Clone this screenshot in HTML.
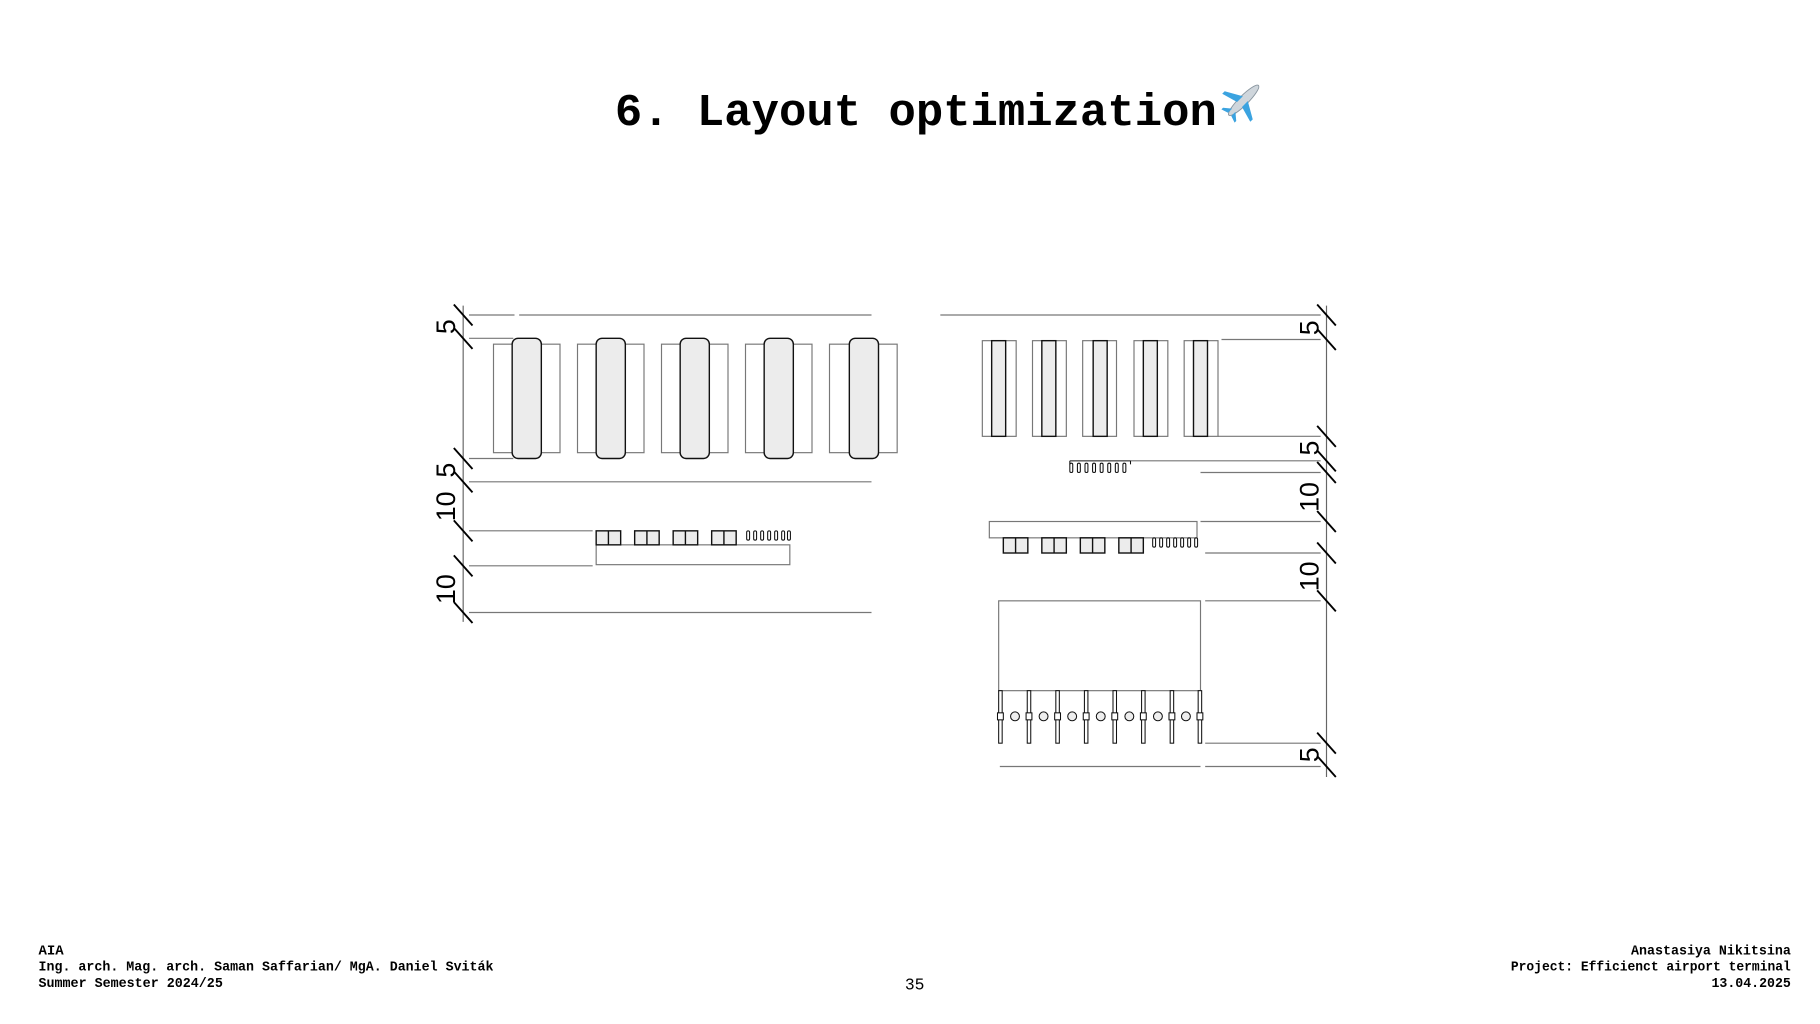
<!DOCTYPE html>
<html><head><meta charset="utf-8"><style>html,body{margin:0;padding:0;background:#fff}svg{display:block}</style></head>
<body>
<svg width="1820" height="1024" viewBox="0 0 1560 877.7" xmlns="http://www.w3.org/2000/svg">
<rect width="1560" height="877.7" fill="#fff"/>
<text x="527" y="107" font-family="Liberation Mono, monospace" font-weight="bold" font-size="39" textLength="516" lengthAdjust="spacingAndGlyphs">6. Layout optimization</text>
<g transform="translate(1066,86) rotate(45)">
<ellipse cx="0" cy="0" rx="4" ry="18" fill="#cfd6dc" stroke="#8a96a0" stroke-width="0.8"/>
<path d="M-3,-2 L-17,6 L-17,9 L-3,5 Z M3,-2 L17,6 L17,9 L3,5 Z" fill="#3ba3e0"/>
<path d="M-2,12 L-8,17 L-8,19 L-2,17 Z M2,12 L8,17 L8,19 L2,17 Z" fill="#3ba3e0"/>
</g>

<g fill="none" stroke="#777" stroke-width="1">
<line x1="402" y1="270" x2="441" y2="270"/><line x1="445" y1="270" x2="747" y2="270"/>
<line x1="402" y1="290" x2="440" y2="290"/>
<line x1="402" y1="393" x2="440" y2="393"/>
<line x1="402" y1="413" x2="747" y2="413"/>
<line x1="402" y1="455" x2="508" y2="455"/>
<line x1="402" y1="485" x2="508" y2="485"/>
<line x1="402" y1="525" x2="747" y2="525"/>
<rect x="423" y="295" width="57" height="93"/><rect x="495" y="295" width="57" height="93"/><rect x="567" y="295" width="57" height="93"/><rect x="639" y="295" width="57" height="93"/><rect x="711" y="295" width="58" height="93"/>
<rect x="511" y="467" width="166" height="17"/>
<line x1="806" y1="270" x2="1132" y2="270"/>
<line x1="1047" y1="291" x2="1132" y2="291"/>
<line x1="1044" y1="374" x2="1132" y2="374"/>
<line x1="969" y1="395" x2="1132" y2="395"/>
<line x1="1029" y1="405" x2="1132" y2="405"/>
<line x1="1029" y1="447" x2="1132" y2="447"/>
<line x1="1033" y1="474" x2="1132" y2="474"/>
<line x1="1033" y1="515" x2="1132" y2="515"/>
<line x1="1033" y1="637" x2="1132" y2="637"/>
<line x1="857" y1="657" x2="1029" y2="657"/><line x1="1033" y1="657" x2="1132" y2="657"/>
<rect x="842" y="292" width="29" height="82"/><rect x="885" y="292" width="29" height="82"/><rect x="928" y="292" width="29" height="82"/><rect x="972" y="292" width="29" height="82"/><rect x="1015" y="292" width="29" height="82"/>
<rect x="848" y="447" width="178" height="14"/>
<rect x="856" y="515" width="173" height="77"/>
</g>

<g fill="#ececec" stroke="#111" stroke-width="1.2">
<rect x="439" y="290" width="25" height="103" rx="5"/><rect x="511" y="290" width="25" height="103" rx="5"/><rect x="583" y="290" width="25" height="103" rx="5"/><rect x="655" y="290" width="25" height="103" rx="5"/><rect x="728" y="290" width="25" height="103" rx="5"/>
<rect x="850" y="292" width="12" height="82"/><rect x="893" y="292" width="12" height="82"/><rect x="937" y="292" width="12" height="82"/><rect x="980" y="292" width="12" height="82"/><rect x="1023" y="292" width="12" height="82"/>
<rect x="511" y="455" width="21" height="12"/><line x1="521.5" y1="455" x2="521.5" y2="467"/>
<rect x="544" y="455" width="21" height="12"/><line x1="554.5" y1="455" x2="554.5" y2="467"/>
<rect x="577" y="455" width="21" height="12"/><line x1="587.5" y1="455" x2="587.5" y2="467"/>
<rect x="610" y="455" width="21" height="12"/><line x1="620.5" y1="455" x2="620.5" y2="467"/>
<rect x="860" y="461" width="21" height="13"/><line x1="870.5" y1="461" x2="870.5" y2="474"/>
<rect x="893" y="461" width="21" height="13"/><line x1="903.5" y1="461" x2="903.5" y2="474"/>
<rect x="926" y="461" width="21" height="13"/><line x1="936.5" y1="461" x2="936.5" y2="474"/>
<rect x="959" y="461" width="21" height="13"/><line x1="969.5" y1="461" x2="969.5" y2="474"/>
</g>
<g fill="none" stroke="#111" stroke-width="0.9">
<rect x="640" y="455" width="2.5" height="8" rx="1.2"/><rect x="646" y="455" width="2.5" height="8" rx="1.2"/><rect x="652" y="455" width="2.5" height="8" rx="1.2"/><rect x="658" y="455" width="2.5" height="8" rx="1.2"/><rect x="664" y="455" width="2.5" height="8" rx="1.2"/><rect x="670" y="455" width="2.5" height="8" rx="1.2"/><rect x="675" y="455" width="2.5" height="8" rx="1.2"/>
<rect x="917" y="397" width="2.5" height="8" rx="1.2"/><rect x="923.5" y="397" width="2.5" height="8" rx="1.2"/><rect x="930" y="397" width="2.5" height="8" rx="1.2"/><rect x="936.5" y="397" width="2.5" height="8" rx="1.2"/><rect x="943" y="397" width="2.5" height="8" rx="1.2"/><rect x="949.5" y="397" width="2.5" height="8" rx="1.2"/><rect x="956" y="397" width="2.5" height="8" rx="1.2"/><rect x="962.5" y="397" width="2.5" height="8" rx="1.2"/>
<line x1="917" y1="395" x2="969" y2="395"/><line x1="917" y1="395" x2="917" y2="398"/><line x1="969" y1="395" x2="969" y2="398"/>
<rect x="988" y="461" width="2.5" height="8" rx="1.2"/><rect x="994" y="461" width="2.5" height="8" rx="1.2"/><rect x="1000" y="461" width="2.5" height="8" rx="1.2"/><rect x="1006" y="461" width="2.5" height="8" rx="1.2"/><rect x="1012" y="461" width="2.5" height="8" rx="1.2"/><rect x="1018" y="461" width="2.5" height="8" rx="1.2"/><rect x="1024" y="461" width="2.5" height="8" rx="1.2"/>
<g fill="#fff">
<rect x="856" y="592" width="3" height="45"/><rect x="880.5" y="592" width="3" height="45"/><rect x="905" y="592" width="3" height="45"/><rect x="929.5" y="592" width="3" height="45"/><rect x="954" y="592" width="3" height="45"/><rect x="978.5" y="592" width="3" height="45"/><rect x="1003" y="592" width="3" height="45"/><rect x="1027" y="592" width="3" height="45"/>
<rect x="855" y="611" width="5" height="6"/><rect x="879.5" y="611" width="5" height="6"/><rect x="904" y="611" width="5" height="6"/><rect x="928.5" y="611" width="5" height="6"/><rect x="953" y="611" width="5" height="6"/><rect x="977.5" y="611" width="5" height="6"/><rect x="1002" y="611" width="5" height="6"/><rect x="1026" y="611" width="5" height="6"/>
</g>
<g fill="#eee">
<circle cx="870" cy="614" r="3.8"/><circle cx="894.5" cy="614" r="3.8"/><circle cx="919" cy="614" r="3.8"/><circle cx="943.5" cy="614" r="3.8"/><circle cx="968" cy="614" r="3.8"/><circle cx="992.5" cy="614" r="3.8"/><circle cx="1016.5" cy="614" r="3.8"/>
</g>
</g>

<g stroke="#666" stroke-width="1"><line x1="397" y1="262" x2="397" y2="533"/><line x1="1137" y1="262" x2="1137" y2="666"/></g>
<g stroke="#000" stroke-width="1.6">
<line x1="389" y1="261" x2="405" y2="279"/><line x1="389" y1="281" x2="405" y2="299"/><line x1="389" y1="384" x2="405" y2="402"/><line x1="389" y1="404" x2="405" y2="422"/><line x1="389" y1="446" x2="405" y2="464"/><line x1="389" y1="476" x2="405" y2="494"/><line x1="389" y1="516" x2="405" y2="534"/>
<line x1="1129" y1="261" x2="1145" y2="279"/><line x1="1129" y1="282" x2="1145" y2="300"/><line x1="1129" y1="365" x2="1145" y2="383"/><line x1="1129" y1="386" x2="1145" y2="404"/><line x1="1129" y1="396" x2="1145" y2="414"/><line x1="1129" y1="438" x2="1145" y2="456"/><line x1="1129" y1="465" x2="1145" y2="483"/><line x1="1129" y1="506" x2="1145" y2="524"/><line x1="1129" y1="628" x2="1145" y2="646"/><line x1="1129" y1="648" x2="1145" y2="666"/>
</g>
<g font-family="Liberation Sans, sans-serif" font-size="23" fill="#000" text-anchor="middle">
<text transform="translate(390,280) rotate(-90)">5</text>
<text transform="translate(390,403) rotate(-90)">5</text>
<text transform="translate(390,434) rotate(-90)">10</text>
<text transform="translate(390,505) rotate(-90)">10</text>
<text transform="translate(1130,281) rotate(-90)">5</text>
<text transform="translate(1130,384) rotate(-90)">5</text>
<text transform="translate(1130,426) rotate(-90)">10</text>
<text transform="translate(1130,494) rotate(-90)">10</text>
<text transform="translate(1130,647) rotate(-90)">5</text>
</g>

<g font-family="Liberation Mono, monospace" font-weight="bold" font-size="12" fill="#000">
<text x="33" y="818">AIA</text>
<text x="33" y="832" textLength="390" lengthAdjust="spacingAndGlyphs">Ing. arch. Mag. arch. Saman Saffarian/ MgA. Daniel Sviták</text>
<text x="33" y="846" textLength="158" lengthAdjust="spacingAndGlyphs">Summer Semester 2024/25</text>
<text x="1398" y="818" textLength="137" lengthAdjust="spacingAndGlyphs">Anastasiya Nikitsina</text>
<text x="1295" y="832" textLength="240" lengthAdjust="spacingAndGlyphs">Project: Efficienct airport terminal</text>
<text x="1467" y="846" textLength="68" lengthAdjust="spacingAndGlyphs">13.04.2025</text>
</g>
<text x="784" y="848" font-family="Liberation Mono, monospace" font-size="14" text-anchor="middle">35</text>
</svg>
</body></html>
